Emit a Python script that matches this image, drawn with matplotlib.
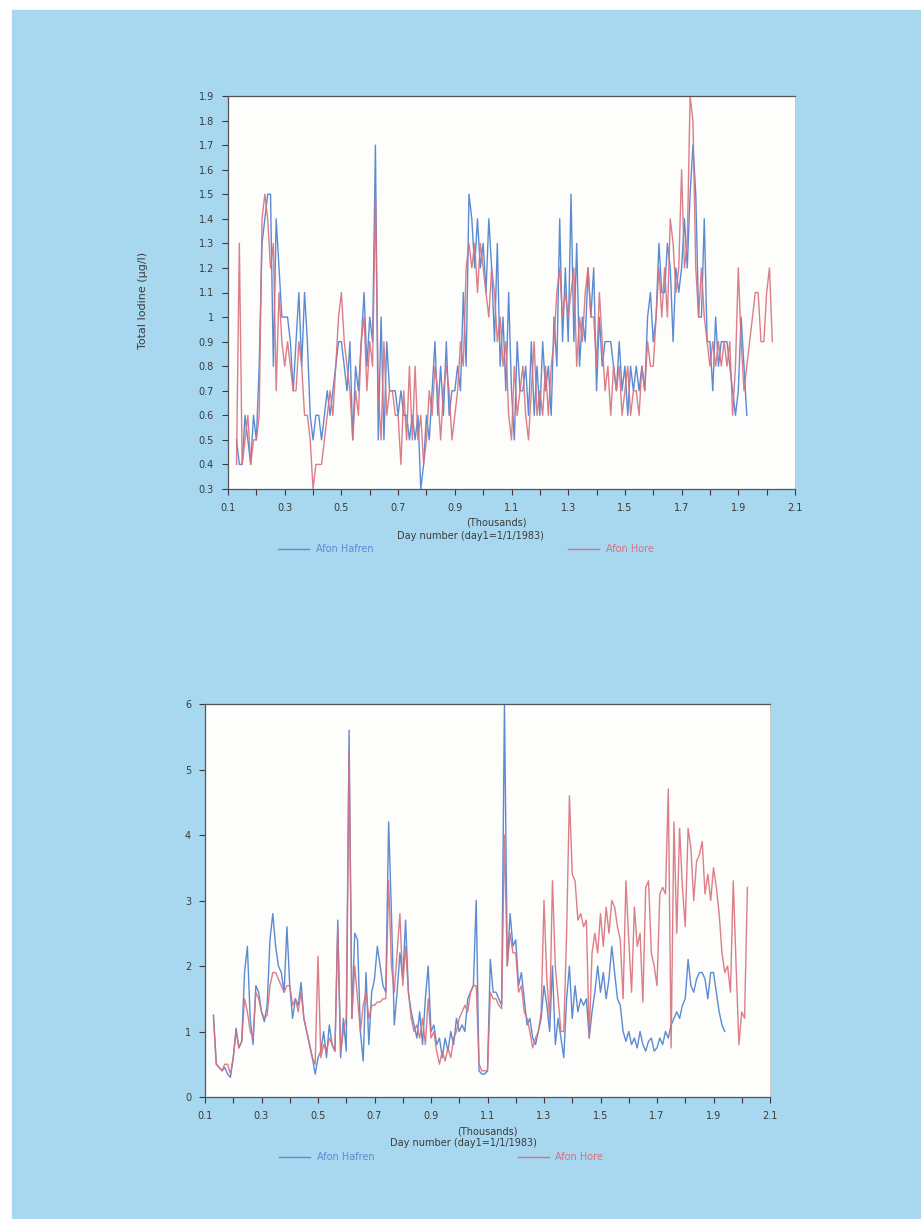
import numpy as np
import matplotlib.pyplot as plt
from matplotlib.patches import Rectangle
from matplotlib.lines import Line2D

# sampled every 10 days, first value at day 130
top_hafren = [
    0.5, 0.4, 0.4, 0.6, 0.5, 0.4, 0.6,
    0.5, 0.8, 1.3, 1.4, 1.5, 1.5, 0.8, 1.4, 1.2, 1.0,
    1.0, 1.0, 0.9, 0.7, 0.9, 1.1, 0.8, 1.1, 0.9, 0.6,
    0.5, 0.6, 0.6, 0.5, 0.6, 0.7, 0.6, 0.7, 0.8, 0.9,
    0.9, 0.8, 0.7, 0.9, 0.5, 0.8, 0.7, 0.9, 1.1, 0.8,
    1.0, 0.9, 1.7, 0.5, 1.0, 0.5, 0.9, 0.7, 0.7, 0.7,
    0.6, 0.7, 0.6, 0.6, 0.5, 0.6, 0.5, 0.6, 0.3, 0.4,
    0.6, 0.5, 0.7, 0.9, 0.6, 0.8, 0.6, 0.9, 0.6, 0.7,
    0.7, 0.8, 0.7, 1.1, 0.8, 1.5, 1.4, 1.2, 1.4, 1.2,
    1.3, 1.1, 1.4, 1.2, 0.9, 1.3, 0.8, 1.0, 0.7, 1.1,
    0.7, 0.5, 0.9, 0.7, 0.7, 0.8, 0.6, 0.9, 0.6, 0.8,
    0.6, 0.9, 0.7, 0.8, 0.6, 1.0, 0.8, 1.4, 0.9, 1.2,
    0.9, 1.5, 0.9, 1.3, 0.8, 1.0, 0.9, 1.2, 1.0, 1.2,
    0.7, 1.0, 0.8, 0.9, 0.9, 0.9, 0.8, 0.7, 0.9, 0.7,
    0.8, 0.6, 0.8, 0.7, 0.8, 0.7, 0.8, 0.7, 1.0, 1.1,
    0.9, 1.0, 1.3, 1.1, 1.1, 1.3, 1.2, 0.9, 1.2, 1.1,
    1.2, 1.4, 1.2, 1.5, 1.7, 1.5, 1.0, 1.0, 1.4, 0.9,
    0.9, 0.7, 1.0, 0.8, 0.9, 0.9, 0.9, 0.8, 0.7, 0.6,
    0.7, 1.0, 0.8, 0.6,
]
top_hore = [
    0.4, 1.3, 0.4, 0.5, 0.6, 0.4, 0.5,
    0.5, 0.6, 1.4, 1.5, 1.4, 1.2, 1.3, 0.7, 1.1, 0.9,
    0.8, 0.9, 0.8, 0.7, 0.7, 0.9, 0.8, 0.6, 0.6, 0.5,
    0.3, 0.4, 0.4, 0.4, 0.5, 0.6, 0.7, 0.6, 0.8, 1.0,
    1.1, 0.9, 0.8, 0.7, 0.5, 0.7, 0.6, 0.9, 1.0, 0.7,
    0.9, 0.8, 1.5, 0.7, 0.5, 0.9, 0.6, 0.7, 0.7, 0.6,
    0.6, 0.4, 0.7, 0.5, 0.8, 0.5, 0.8, 0.5, 0.6, 0.4,
    0.5, 0.7, 0.6, 0.8, 0.7, 0.5, 0.7, 0.8, 0.7, 0.5,
    0.6, 0.7, 0.9, 0.8, 1.2, 1.3, 1.2, 1.3, 1.1, 1.3,
    1.2, 1.1, 1.0, 1.2, 1.1, 0.9, 1.0, 0.8, 0.9, 0.6,
    0.5, 0.8, 0.6, 0.7, 0.8, 0.6, 0.5, 0.7, 0.9, 0.6,
    0.7, 0.6, 0.8, 0.6, 0.8, 0.9, 1.1, 1.2, 1.0, 1.1,
    1.0, 1.1, 1.2, 0.8, 1.0, 0.9, 1.1, 1.2, 1.0, 1.0,
    0.8, 1.1, 0.9, 0.7, 0.8, 0.6, 0.8, 0.7, 0.8, 0.6,
    0.7, 0.8, 0.6, 0.7, 0.7, 0.6, 0.8, 0.7, 0.9, 0.8,
    0.8, 1.0, 1.2, 1.0, 1.2, 1.0, 1.4, 1.3, 1.1, 1.2,
    1.6, 1.2, 1.3, 1.9, 1.8, 1.2, 1.0, 1.2, 1.0, 0.9,
    0.8, 0.9, 0.8, 0.9, 0.8, 0.9, 0.8, 0.9, 0.6, 0.8,
    1.2, 0.9, 0.7, 0.8, 0.9, 1.0, 1.1, 1.1, 0.9, 0.9,
    1.1, 1.2, 0.9,
]
bot_hafren = [
    1.25, 0.5, 0.45, 0.4, 0.45, 0.35, 0.3,
    0.6, 1.05, 0.75, 0.85, 1.9, 2.3, 1.2, 0.8, 1.7, 1.6,
    1.3, 1.15, 1.4, 2.4, 2.8, 2.3, 2.0, 1.9, 1.6, 2.6,
    1.7, 1.2, 1.5, 1.4, 1.75, 1.2, 1.0, 0.8, 0.6, 0.35,
    0.6, 0.7, 1.0, 0.6, 1.1, 0.8, 0.7, 2.7, 0.6, 1.2,
    0.7, 5.6, 1.2, 2.5, 2.4, 1.0, 0.55, 1.9, 0.8, 1.6,
    1.8, 2.3, 2.0, 1.7, 1.6, 4.2, 2.8, 1.1, 1.6, 2.2,
    1.8, 2.7, 1.6, 1.3, 1.1, 0.9, 1.3, 0.8, 1.5, 2.0,
    1.0, 1.1, 0.8, 0.9, 0.6, 0.9, 0.7, 1.0, 0.8, 1.2,
    1.0, 1.1, 1.0, 1.5, 1.6, 1.7, 3.0, 0.4, 0.35, 0.35,
    0.4, 2.1, 1.6, 1.6, 1.5, 1.4, 6.0, 2.0, 2.8, 2.3,
    2.4, 1.7, 1.9, 1.5, 1.1, 1.2, 0.9, 0.8, 1.0, 1.2,
    1.7, 1.4, 1.0, 2.0, 0.8, 1.2, 0.9, 0.6, 1.5, 2.0,
    1.2, 1.7, 1.3, 1.5, 1.4, 1.5, 0.9, 1.3, 1.6, 2.0,
    1.6, 1.9, 1.5, 1.8, 2.3, 1.9, 1.5, 1.4, 1.0, 0.85,
    1.0, 0.8, 0.9, 0.75, 1.0, 0.8, 0.7, 0.85, 0.9, 0.7,
    0.75, 0.9, 0.8, 1.0, 0.9, 1.1, 1.2, 1.3, 1.2, 1.4,
    1.5, 2.1, 1.7, 1.6, 1.8, 1.9, 1.9, 1.8, 1.5, 1.9,
    1.9, 1.6, 1.3, 1.1, 1.0,
]
bot_hore = [
    1.2, 0.5, 0.45, 0.4, 0.5, 0.5, 0.35,
    0.6, 1.0, 0.75, 0.85, 1.5, 1.3, 1.0, 0.9, 1.6, 1.5,
    1.3, 1.2, 1.25, 1.7, 1.9, 1.9, 1.8, 1.7, 1.6, 1.7,
    1.7, 1.4, 1.5, 1.3, 1.6, 1.2, 1.0, 0.8, 0.6, 0.5,
    2.15, 0.6, 0.8, 0.7, 0.9, 0.8, 0.7, 2.6, 0.7, 1.0,
    1.2, 5.3, 1.2, 2.0, 1.5, 1.0, 1.4, 1.6, 1.2, 1.4,
    1.4, 1.45, 1.45, 1.5, 1.5, 3.3, 2.0, 1.6, 2.2, 2.8,
    1.7, 2.3, 1.6, 1.2, 1.0, 1.1, 0.9, 1.2, 0.8, 1.5,
    0.9, 1.0, 0.7, 0.5, 0.7, 0.55, 0.75, 0.6, 0.9, 1.0,
    1.2, 1.3, 1.4, 1.3, 1.6, 1.7, 1.7, 0.5, 0.4, 0.4,
    0.4, 1.6, 1.5, 1.5, 1.4, 1.35, 4.0, 2.0, 2.5, 2.2,
    2.2, 1.6, 1.7, 1.3, 1.2, 1.0, 0.75, 0.9, 1.0, 1.3,
    3.0, 1.8, 1.2, 3.3, 2.0, 1.5, 1.0, 1.0, 2.5, 4.6,
    3.4, 3.3, 2.7, 2.8, 2.6, 2.7, 0.9, 2.2, 2.5, 2.2,
    2.8, 2.3, 2.9, 2.5, 3.0, 2.9, 2.6, 2.4, 1.5, 3.3,
    2.4, 1.6, 2.9, 2.3, 2.5, 1.45, 3.2, 3.3, 2.2, 2.0,
    1.7, 3.1, 3.2, 3.1, 4.7, 0.75, 4.2, 2.5, 4.1, 3.2,
    2.6, 4.1, 3.8, 3.0, 3.6, 3.7, 3.9, 3.1, 3.4, 3.0,
    3.5, 3.2, 2.8, 2.2, 1.9, 2.0, 1.6, 3.3, 2.0, 0.8,
    1.3, 1.2, 3.2,
]
first_day = 130
x_ticks = np.arange(0.1, 2.11, 0.1)
series_names = ['Afon Hafren', 'Afon Hore']

blue = '#5b8bd2'
red = '#d9707c'
page = '#a8d8f0'
ink = '#3a3a3a'


def days(vals):
    return (first_day + 10 * np.arange(len(vals))) / 1000.0


def style_axes(ax, ylim, yticks, ylabels):
    ax.set_xlim(0.1, 2.1)
    ax.set_ylim(*ylim)
    ax.set_xticks(x_ticks)
    ax.set_xticklabels(['%.1f' % t if i % 2 == 0 else '' for i, t in enumerate(x_ticks)])
    ax.set_yticks(yticks)
    ax.set_yticklabels(ylabels)
    ax.tick_params(direction='out', length=4, width=0.8, labelsize=7,
                   colors=ink, pad=6)
    ax.set_facecolor('#fdfdfb')
    for s in ['left', 'bottom', 'top']:
        ax.spines[s].set_color('#555555')
        ax.spines[s].set_linewidth(0.9)
    ax.spines['right'].set_color('#c8c8c8')
    ax.spines['right'].set_linewidth(0.8)


fig = plt.figure(figsize=(9.21, 12.19), dpi=100)
fig.patch.set_facecolor('white')
fig.patches.append(Rectangle((12 / 921, 0), 1, (1219 - 10) / 1219,
                             transform=fig.transFigure, color=page, zorder=-5))

ax1 = fig.add_axes([228 / 921, 1 - 489 / 1219, 567 / 921, 393 / 1219])
ax1.plot(days(top_hafren), top_hafren, color=blue, lw=1.0)
ax1.plot(days(top_hore), top_hore, color=red, lw=1.0, alpha=0.9)
yt = np.arange(0.3, 1.91, 0.1)
style_axes(ax1, (0.3, 1.9), yt, ['1' if abs(v - 1) < 1e-6 else '%.1f' % v for v in yt])
ax1.set_ylabel('Total Iodine (µg/l)', fontsize=8, color=ink)
ax1.yaxis.set_label_coords(-0.141, 0.48)

ax2 = fig.add_axes([205 / 921, 1 - 1097 / 1219, 565 / 921, 393 / 1219])
ax2.plot(days(bot_hafren), bot_hafren, color=blue, lw=1.0)
ax2.plot(days(bot_hore), bot_hore, color=red, lw=1.0, alpha=0.9)
style_axes(ax2, (0, 6), range(0, 7), [str(v) for v in range(0, 7)])

handles = [Line2D([], [], color=blue, lw=1.0), Line2D([], [], color=red, lw=1.0)]
for ax, tx, dx, ty, dy, lx, sp in [(ax1, 0.474, 0.427, -0.084, -0.12, 0.42, 20),
                                   (ax2, 0.50, 0.458, -0.089, -0.117, 0.418, 14.7)]:
    ax.text(tx, ty, '(Thousands)', transform=ax.transAxes, ha='center',
            va='center', fontsize=7, color=ink)
    ax.text(dx, dy, 'Day number (day1=1/1/1983)', transform=ax.transAxes,
            ha='center', va='center', fontsize=7, color=ink)
    leg = ax.legend(handles, series_names, ncol=2, loc='center',
                    bbox_to_anchor=(lx, -0.153), frameon=False, fontsize=7,
                    columnspacing=sp, handlelength=3.2, handletextpad=0.7)
    for t, c in zip(leg.get_texts(), [blue, red]):
        t.set_color(c)

fig.savefig('out.png', dpi=100, facecolor=fig.get_facecolor())
